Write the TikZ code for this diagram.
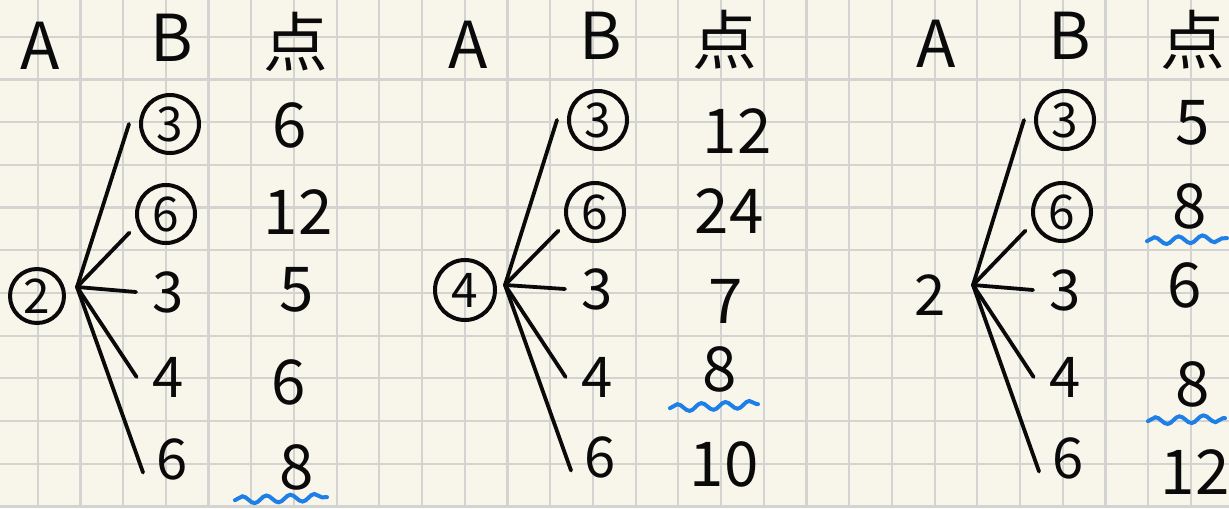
\documentclass[tikz,border=0pt]{standalone}
\usepackage{fontspec}
\setmainfont{Noto Sans CJK JP}
\usepackage{xcolor}
\usepackage{tikz}
\usetikzlibrary{decorations.pathmorphing}
\definecolor{nbpaper}{HTML}{F8F6EB}
\definecolor{nbgrid}{HTML}{D3D3D1}
\definecolor{nbink}{HTML}{0A0A0A}
\definecolor{nbblue}{HTML}{1E80E6}

\begin{document}
\begin{tikzpicture}[x=0.025cm,y=-0.025cm,
  gridline/.style={nbgrid,line width=0.055cm},
  head/.style={inner sep=0pt,text=nbink,font=\fontsize{46}{50}\selectfont},
  rootmark/.style={circle,draw=nbink,line width=0.1cm,minimum width=1.35cm,
    inner sep=0pt,text=nbink,font=\fontsize{34}{38}\selectfont},
  rootplain/.style={inner sep=0pt,text=nbink,font=\fontsize{40}{44}\selectfont},
  pick/.style={circle,draw=nbink,line width=0.1cm,minimum size=1.45cm,
    inner sep=0pt,outer sep=0.3cm,text=nbink,font=\fontsize{34}{38}\selectfont},
  kid/.style={circle,minimum size=1.1cm,inner sep=0pt,outer sep=0.15cm,
    text=nbink,font=\fontsize{40}{44}\selectfont},
  score/.style={minimum width=2.2cm,inner sep=0pt,text=nbink,
    font=\fontsize{44}{48}\selectfont},
  branch/.style={nbink,line width=0.095cm,line cap=round},
  wavy/.style={nbblue,line width=0.1cm,line cap=round,decorate,
    decoration={snake,segment length=0.6cm,amplitude=0.09cm}}
]
\useasboundingbox (0,0) rectangle (1229,508);
\fill[nbpaper] (0,0) rectangle (1229,508);
\begin{scope}
\clip (0,0) rectangle (1229,508);
\foreach \k in {0,...,27}
  \draw[gridline] (37.7+42.71*\k,0) -- (37.7+42.71*\k,508);
\foreach \k in {0,...,11}
  \draw[gridline] (0,36.7+42.71*\k) -- (1229,36.7+42.71*\k);
\end{scope}

% left table
\node[head] (hA1) at (40,46) {A};
\node[head] (hB1) at (172,38) {B};
\node[head] (hP1) at (296,42) {点};
\node[rootmark] (r1) at (37,296) {2};
\coordinate (j1) at (77,287);
\node[pick] (c11) at (170,124) {3};
\node[pick] (c12) at (166,214) {6};
\node[kid] (c13) at (168,292) {3};
\node[kid] (c14) at (168,377) {4};
\node[kid] (c15) at (172,459) {6};
\node[score] (p11) at (290,125) {6};
\node[score] (p12) at (298,212) {12};
\node[score] (p13) at (297,290) {5};
\node[score] (p14) at (289,382) {6};
\node[score] (p15) at (297,467) {8};
\draw[branch] (j1) -- (c11.west);
\draw[branch] (j1) -- (c12.207);
\draw[branch] (j1) -- (c13.west);
\draw[branch] (j1) -- (c14.west);
\draw[branch] (j1) -- (c15.205);
\draw[wavy] ([shift={(-62,10)}]p15.south) -- ([shift={(30,7)}]p15.south);

% middle table
\node[head] (hA2) at (468,45) {A};
\node[head] (hB2) at (601,36) {B};
\node[head] (hP2) at (725,40) {点};
\node[rootmark,minimum height=1.5cm] (r2) at (465,290) {4};
\coordinate (j2) at (505,285);
\node[pick] (c21) at (598,120) {3};
\node[pick] (c22) at (595,212) {6};
\node[kid] (c23) at (597,289) {3};
\node[kid] (c24) at (597,377) {4};
\node[kid] (c25) at (600,457) {6};
\node[score] (p21) at (737,131) {12};
\node[score] (p22) at (729,211) {24};
\node[score] (p23) at (726,301) {7};
\node[score] (p24) at (720,369) {8};
\node[score] (p25) at (724,464) {10};
\draw[branch] (j2) -- (c21.west);
\draw[branch] (j2) -- (c22.207);
\draw[branch] (j2) -- (c23.west);
\draw[branch] (j2) -- (c24.west);
\draw[branch] (j2) -- (c25.205);
\draw[wavy] ([shift={(-50,16)}]p24.south) -- ([shift={(38,12)}]p24.south);

% right table
\node[head] (hA3) at (936,44) {A};
\node[head] (hB3) at (1070,36) {B};
\node[head] (hP3) at (1193,40) {点};
\node[rootplain] (r3) at (930,295) {2};
\coordinate (j3) at (973,285);
\node[pick] (c31) at (1065,120) {3};
\node[pick] (c32) at (1062,212) {6};
\node[kid] (c33) at (1065,290) {3};
\node[kid] (c34) at (1065,377) {4};
\node[kid] (c35) at (1068,458) {6};
\node[score] (p31) at (1193,123) {5};
\node[score] (p32) at (1190,206) {8};
\node[score] (p33) at (1185,285) {6};
\node[score] (p34) at (1193,384) {8};
\node[score] (p35) at (1195,472) {12};
\draw[branch] (j3) -- (c31.west);
\draw[branch] (j3) -- (c32.207);
\draw[branch] (j3) -- (c33.west);
\draw[branch] (j3) -- (c34.west);
\draw[branch] (j3) -- (c35.205);
\draw[wavy] ([shift={(-43,12)}]p32.south) -- ([shift={(37,9)}]p32.south);
\draw[wavy] ([shift={(-45,14)}]p34.south) -- ([shift={(32,11)}]p34.south);
\end{tikzpicture}
\end{document}
